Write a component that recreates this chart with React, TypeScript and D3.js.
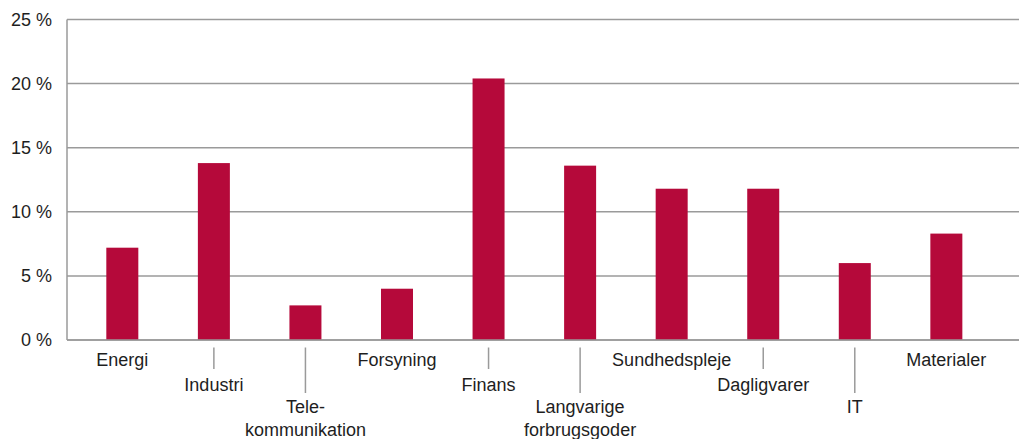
import React from "react";
import * as d3 from "d3";

const categories = [
  "Energi",
  "Industri",
  "Tele-\nkommunikation",
  "Forsyning",
  "Finans",
  "Langvarige\nforbrugsgoder",
  "Sundhedspleje",
  "Dagligvarer",
  "IT",
  "Materialer",
];
const values = [7.2, 13.8, 2.7, 4.0, 20.4, 13.6, 11.8, 11.8, 6.0, 8.3];
const labelRows = [0, 1, 2, 0, 1, 2, 0, 1, 2, 0];
const yTicks = [0, 5, 10, 15, 20, 25];

const W = 1019;
const H = 439;
const left = 67;
const right = 1019;
const top = 19.5;
const bottom = 340;

const FONT = "'Liberation Sans', Arial, sans-serif";
const TEXT = "#1e1e1e";
const GRID = "#9a9a9a";
const BAR = "#b5093a";

export default function App() {
  const x = d3
    .scaleBand<string>()
    .domain(categories)
    .range([left, 1018])
    .paddingInner(0.6505)
    .paddingOuter(0.5186)
    .align(0.414);
  const y = d3.scaleLinear().domain([0, 25]).range([bottom, top]);

  const rowBaseline = [26, 51, 73];
  const lineGap = 23;
  const tickLen = [0, 29, 53];

  return (
    <svg
      width={W}
      height={H}
      style={{ position: "absolute", left: 0, top: 0 }}
      fontFamily={FONT}
    >
      {yTicks.map((t) => (
        <g key={t}>
          <line
            x1={left}
            x2={right}
            y1={y(t)}
            y2={y(t)}
            stroke={GRID}
            strokeWidth={1.5}
          />
          <text
            x={52}
            y={y(t)}
            dy="0.36em"
            textAnchor="end"
            fontSize={18}
            fill={TEXT}
          >
            {`${t} %`}
          </text>
        </g>
      ))}
      {categories.map((c, i) => (
        <rect
          key={c}
          x={x(c)}
          y={y(values[i])}
          width={x.bandwidth()}
          height={y(0) - y(values[i])}
          fill={BAR}
        />
      ))}
      <line x1={left} x2={left} y1={top} y2={bottom} stroke={GRID} strokeWidth={1.5} />
      <line x1={left} x2={right} y1={bottom} y2={bottom} stroke={GRID} strokeWidth={1.5} />
      {categories.map((c, i) => {
        const cx = (x(c) as number) + x.bandwidth() / 2;
        const row = labelRows[i];
        const lines = c.split("\n");
        return (
          <g key={c}>
            {row > 0 && (
              <line
                x1={cx}
                x2={cx}
                y1={bottom + 7.5}
                y2={bottom + tickLen[row]}
                stroke={GRID}
                strokeWidth={1.5}
              />
            )}
            {lines.map((ln, k) => (
              <text
                key={k}
                x={cx}
                y={bottom + rowBaseline[row] + k * lineGap}
                textAnchor="middle"
                fontSize={18}
                fill={TEXT}
              >
                {ln}
              </text>
            ))}
          </g>
        );
      })}
    </svg>
  );
}
